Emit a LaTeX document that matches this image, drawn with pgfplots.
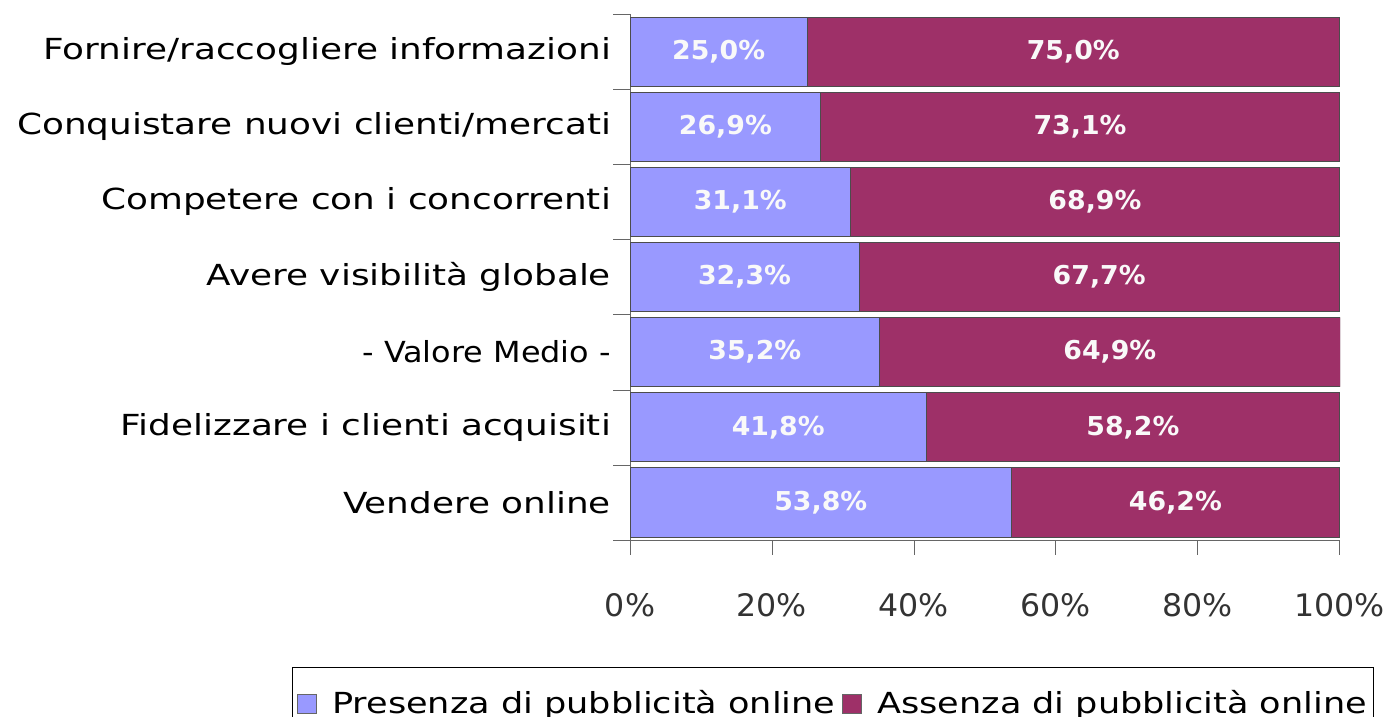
\documentclass[border=0pt]{standalone}
\usepackage{pgfplots}
\pgfplotsset{compat=1.18}
\usepackage{fontspec}
\setmainfont{DejaVu Sans}
\newfontfamily\labfont{DejaVu Sans}[FakeStretch=1.235]
\newfontfamily\medfont{DejaVu Sans}[FakeStretch=1.10]
\newfontfamily\legfont{DejaVu Sans}[FakeStretch=1.21]
\newfontfamily\numfont{DejaVu Sans}[FakeStretch=1.02]
\newfontfamily\barfont{DejaVu Sans}[FakeStretch=1.03]
\definecolor{presblue}{HTML}{9999FF}
\definecolor{assmaroon}{HTML}{9E3068}
\begin{document}
\begin{tikzpicture}[x=1pt,y=1pt]
\path[use as bounding box] (0,0) rectangle (699,358.5);
\begin{axis}[
  at={(315pt,88.5pt)}, anchor=south west,
  scale only axis, width=355pt, height=263pt,
  xbar stacked, bar width=0.92,
  xmin=0, xmax=100.1, ymin=-0.5, ymax=6.5,
  ytick={0,...,6},
  yticklabels={Vendere online, Fidelizzare i clienti acquisiti, {\medfont - Valore Medio -}, Avere visibilità globale, Competere con i concorrenti, Conquistare nuovi clienti/mercati, Fornire/raccogliere informazioni},
  minor ytick={-0.5,0.5,...,6.5},
  xtick={0,20,...,100},
  xticklabels={0\%,20\%,40\%,60\%,80\%,100\%},
  axis x line*=bottom, axis y line*=left,
  axis line style={gray!80!black, thin},
  tick align=outside,
  every major y tick/.append style={draw=none},
  every minor y tick/.append style={gray!80!black},
  every major x tick/.append style={gray!80!black},
  major tick length=7.5pt, minor tick length=8.5pt,
  y tick label style={font=\labfont\fontsize{14.5}{17}\selectfont, text=black, xshift=1.5pt},
  x tick label style={font=\numfont\fontsize{15.5}{18}\selectfont, text=black!80, yshift=-15.5pt},
  /pgf/number format/assume math mode=true,
  point meta=rawx,
  nodes near coords={\pgfmathprintnumber[fixed,fixed zerofill,precision=1,use comma]{\pgfplotspointmeta}\%},
  every node near coord/.append style={anchor=center, font=\barfont\bfseries\fontsize{13}{15}\selectfont, text=white!95!gray},
  legend style={at={(-0.476,-0.2414)}, anchor=north west, legend columns=2, draw=black, font=\legfont\fontsize{14.5}{17}\selectfont, inner xsep=1pt, inner ysep=9.5pt, /tikz/every even column/.append style={column sep=0pt}},
  legend image code/.code={\path (-1.5pt,0pt); \draw[#1, draw=black!60] (0pt,-4.75pt) rectangle (9.5pt,4.75pt); \path (15pt,0pt);},
]
\addplot[fill=presblue, draw=black!70] coordinates {(53.8,0) (41.8,1) (35.2,2) (32.3,3) (31.1,4) (26.9,5) (25.0,6)};
\addplot[fill=assmaroon, draw=black!70] coordinates {(46.2,0) (58.2,1) (64.9,2) (67.7,3) (68.9,4) (73.1,5) (75.0,6)};
\legend{Presenza di pubblicità online, Assenza di pubblicità online}
\end{axis}
\end{tikzpicture}
\end{document}
